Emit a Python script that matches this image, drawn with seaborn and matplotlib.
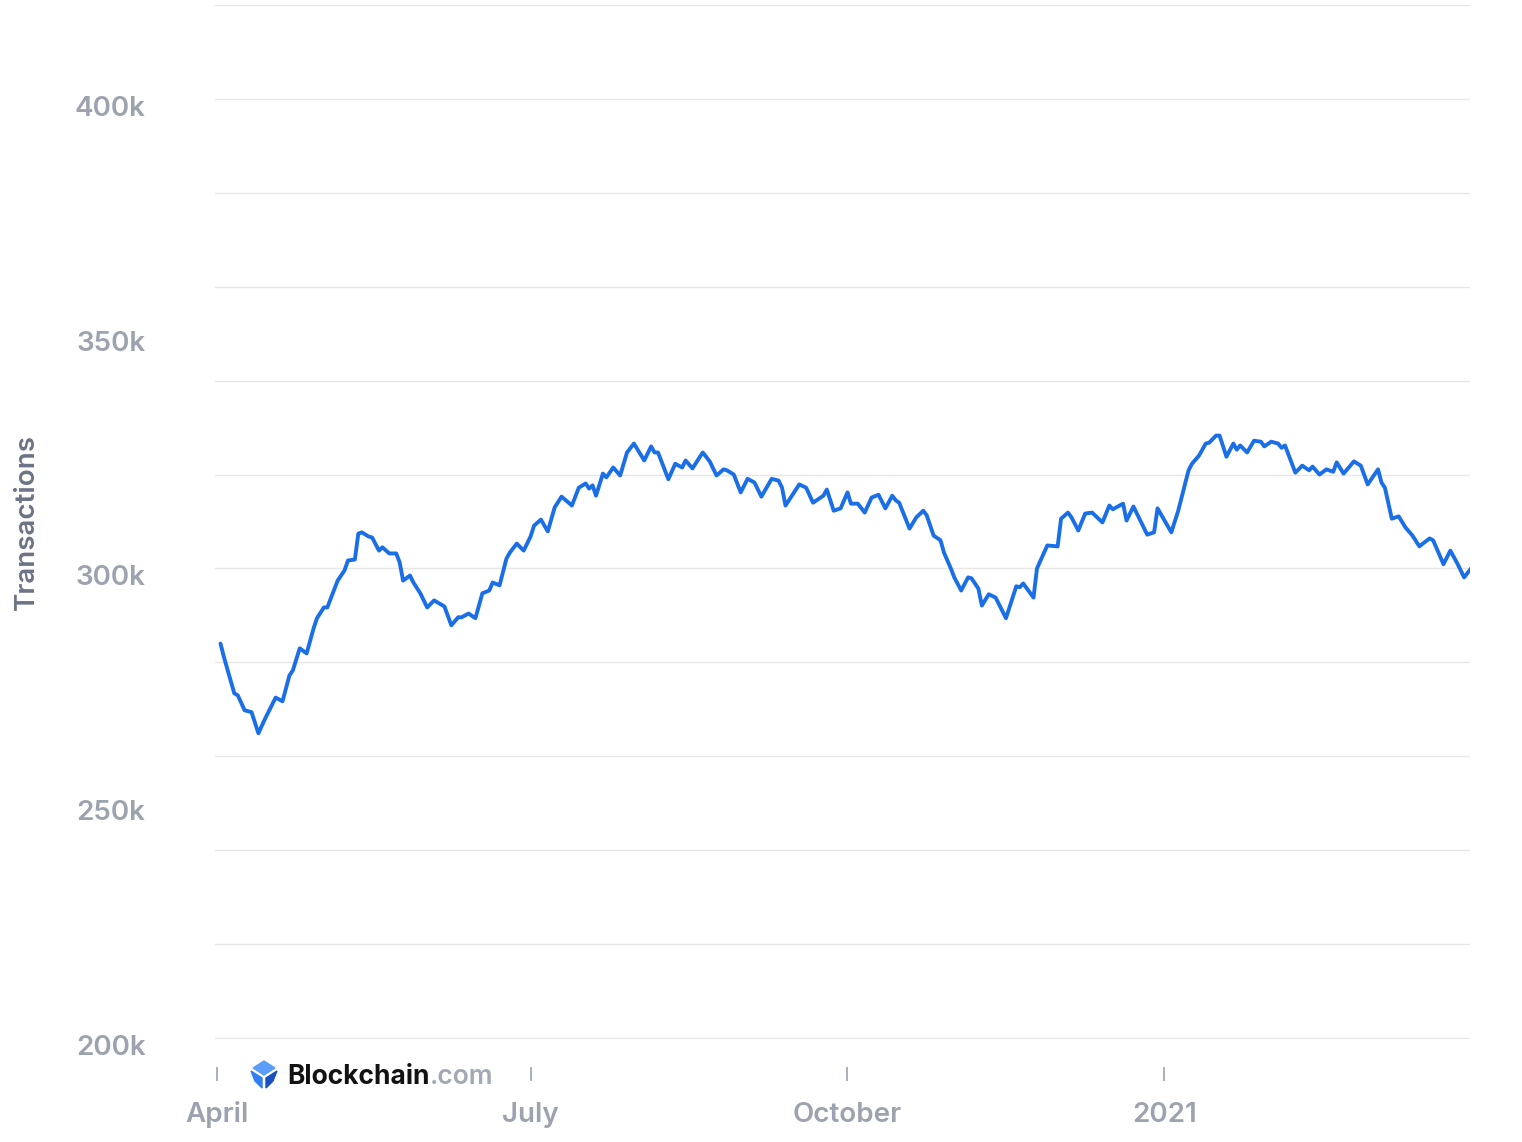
import pandas as pd
import matplotlib.pyplot as plt
import matplotlib.ticker as mticker
from matplotlib.transforms import ScaledTranslation
from matplotlib.patches import Polygon
import seaborn as sns

# daily confirmed transactions (7-day avg)
# day offsets from 2020-04-01, values in thousands
days = [1, 2, 5, 6, 8, 10, 12, 14, 17, 19, 21, 22, 24, 26, 28, 29, 31, 32, 35, 37,
        38, 40, 41, 42, 44, 45, 47, 48, 50, 52, 53, 54, 56, 57, 59, 61, 63, 66, 68, 70,
        71, 73, 75, 77, 79, 80, 82, 84, 85, 87, 89, 91, 92, 94, 96, 98, 100, 103, 105, 107,
        108, 109, 110, 112, 113, 115, 117, 119, 121, 124, 126, 127, 128, 131, 133, 135, 136, 138, 140, 141,
        143, 145, 147, 148, 150, 152, 154, 156, 158, 161, 163, 164, 165, 169, 171, 173, 176, 177, 179, 181,
        183, 184, 186, 188, 190, 192, 194, 196, 197, 198, 201, 203, 205, 206, 208, 210, 211, 213, 214, 216,
        218, 219, 221, 222, 224, 226, 229, 232, 233, 234, 237, 238, 241, 244, 245, 247, 248, 250, 252, 254,
        257, 259, 260, 263, 264, 266, 270, 272, 273, 277, 279, 282, 283, 285, 287, 288, 290, 291, 293, 295,
        296, 297, 299, 301, 303, 304, 306, 308, 309, 310, 313, 315, 317, 318, 320, 322, 324, 325, 327, 330,
        332, 334, 337, 338, 339, 341, 343, 345, 347, 349, 350, 352, 353, 356, 358, 360, 362, 364]
tx_k = [284.0, 281.1, 273.4, 273.0, 269.8, 269.4, 264.9, 268.1, 272.5, 271.7, 277.2, 278.3, 283.0, 281.9, 287.2, 289.4, 291.7, 291.7, 297.4, 299.6,
        301.7, 301.9, 307.4, 307.7, 306.8, 306.6, 303.8, 304.5, 303.2, 303.2, 301.3, 297.4, 298.5, 297.0, 294.7, 291.7, 293.2, 291.9, 287.9, 289.6,
        289.6, 290.4, 289.4, 294.7, 295.3, 297.0, 296.4, 302.1, 303.4, 305.3, 303.8, 306.8, 309.1, 310.4, 307.9, 313.0, 315.3, 313.4, 317.2, 318.1,
        317.0, 317.7, 315.5, 320.2, 319.4, 321.5, 319.8, 324.7, 326.6, 323.0, 326.0, 324.7, 324.7, 319.0, 322.3, 321.5, 323.0, 321.3, 323.6, 324.7,
        322.8, 319.8, 321.1, 320.9, 320.0, 316.2, 319.1, 318.3, 315.3, 319.1, 318.7, 317.2, 313.4, 317.9, 317.2, 314.0, 315.5, 316.8, 312.3, 312.8,
        316.2, 313.8, 313.8, 311.9, 315.1, 315.7, 312.8, 315.5, 314.5, 314.0, 308.5, 310.9, 312.3, 311.3, 307.0, 306.0, 303.4, 300.0, 298.1, 295.3,
        298.1, 297.9, 295.7, 292.1, 294.5, 293.8, 289.4, 296.2, 296.0, 296.8, 293.8, 300.0, 304.9, 304.7, 310.6, 311.9, 310.9, 308.1, 311.7, 311.9,
        309.8, 313.4, 312.6, 313.8, 310.2, 313.2, 307.2, 307.7, 312.8, 307.7, 312.3, 320.9, 322.3, 324.0, 326.6, 326.8, 328.3, 328.3, 323.8, 326.6,
        325.3, 326.2, 324.7, 327.2, 327.0, 326.0, 327.0, 326.6, 325.7, 326.2, 320.4, 321.9, 320.9, 321.7, 320.0, 321.1, 320.6, 322.6, 320.2, 322.8,
        321.9, 317.9, 321.1, 318.3, 317.2, 310.6, 311.1, 308.7, 307.0, 304.7, 305.3, 306.4, 306.0, 300.9, 303.8, 301.1, 298.1, 300.0]

start = pd.Timestamp('2020-04-01')
tick_dates = ['2020-04-01', '2020-07-01', '2020-10-01', '2021-01-01']
tick_names = ['April', 'July', 'October', '2021']
y_ticks = [200000, 250000, 300000, 350000, 400000]
y_names = ['200k', '250k', '300k', '350k', '400k']

df = pd.DataFrame({'date': start + pd.to_timedelta(days, unit='D'),
                   'transactions': [v * 1000 for v in tx_k]})

sns.set_style("white")
plt.rcParams['font.family'] = ['Inter', 'DejaVu Sans']

W, H = 1522, 1142
fig = plt.figure(figsize=(W / 100, H / 100), dpi=100)
ax = fig.add_axes([215 / W, 1 - 1039 / H, (1470 - 215) / W, (1039 - 5) / H])

sns.lineplot(data=df, x='date', y='transactions', ax=ax, color='#1b6fe6',
             linewidth=2.8, solid_joinstyle='round', solid_capstyle='round')

ax.set_xlim(start - pd.Timedelta(days=0.6), start + pd.Timedelta(days=363.7))
ax.set_ylim(199790, 420000)

# grid every 20k, labels every 50k
ax.yaxis.set_minor_locator(mticker.MultipleLocator(20000))
ax.yaxis.remove_overlapping_locs = False
ax.set_yticks(y_ticks)
ax.set_yticklabels(y_names)
ax.grid(which='minor', axis='y', color='#e6e6e6', linewidth=1)
ax.grid(which='major', visible=False)
ax.tick_params(axis='y', which='both', length=0, pad=50, labelsize=20,
               labelcolor='#9ca3af')
for lab in ax.get_yticklabels():
    lab.set_fontweight('semibold')
    lab.set_transform(lab.get_transform() + ScaledTranslation(0, -5 / 72, fig.dpi_scale_trans))

ax.set_xticks(pd.to_datetime(tick_dates))
ax.set_xticklabels(tick_names)
ax.xaxis.set_minor_locator(mticker.NullLocator())
ax.spines['bottom'].set_position(('outward', 20))
for s in ax.spines.values():
    s.set_visible(False)
ax.tick_params(axis='x', bottom=True, length=10, width=1.2, color='#9ca3af',
               direction='out', pad=15, labelsize=20, labelcolor='#9ca3af')
for lab in ax.get_xticklabels():
    lab.set_fontweight('semibold')

ax.set_xlabel('')
ax.set_ylabel('Transactions', fontsize=20, color='#6b7385', fontweight='semibold')
ax.yaxis.set_label_coords((27 - 215) / 1255, (1039 - 522) / 1034)
ax.yaxis.label.set_verticalalignment('center')

# Blockchain.com mark
def px(x, y):
    return (x / W, 1 - y / H)

fig.patches.append(Polygon([px(264, 1061), px(275, 1068), px(264, 1075), px(253, 1068)],
                           closed=True, transform=fig.transFigure, color='#5b9df7'))
fig.patches.append(Polygon([px(251, 1071), px(262, 1078), px(262, 1088), px(255, 1081)],
                           closed=True, transform=fig.transFigure, color='#2f7ff0'))
fig.patches.append(Polygon([px(277, 1071), px(266, 1078), px(266, 1088), px(273, 1081)],
                           closed=True, transform=fig.transFigure, color='#1a4fc2'))
brand = fig.text(287 / W, 1 - 1074 / H, 'Blockchain', fontsize=19, fontweight='bold',
                 color='#121212', va='center_baseline', ha='left')
ax.annotate('.com', xy=(1, 0), xycoords=brand, xytext=(0, 0), textcoords='offset points',
            fontsize=19, fontweight='semibold', color='#a3a8b5', va='bottom', ha='left',
            annotation_clip=False)

fig.savefig('out.png', dpi=100)
